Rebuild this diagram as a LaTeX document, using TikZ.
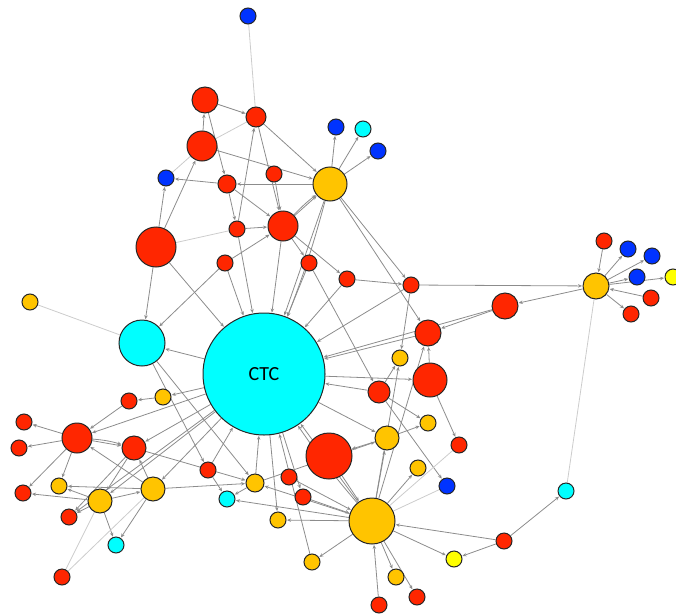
\documentclass[tikz,border=0pt]{standalone}
\usepackage{fontspec}
\setsansfont{Carlito}
\usetikzlibrary{arrows.meta,backgrounds}
\definecolor{red}{RGB}{255,38,0}
\definecolor{org}{RGB}{255,196,0}
\definecolor{blu}{RGB}{0,51,255}
\definecolor{cyn}{RGB}{0,255,255}
\definecolor{ylw}{RGB}{255,255,0}
\begin{document}
\begin{tikzpicture}[x=1pt,y=-1pt,
    nd/.style={circle,draw=black!85,line width=1pt,inner sep=0pt},
    ed/.style={draw=black!45,line width=0.8pt,-{Stealth[length=4pt,width=3.5pt]},shorten >=0.5pt},
    lt/.style={draw=black!20,line width=0.8pt}]
\useasboundingbox (0,0) rectangle (676,615);
% nodes
\node[nd,fill=cyn,minimum size=122pt,font=\sffamily\fontsize{20}{24}\selectfont] (ctc) at (264,374) {CTC};
\foreach \n/\x/\y/\d/\c in {b1/248/16/16/blu, r1/205/100/26/red, r2/256/117/20/red, r3/202/146/30/red,
    b2/166/178/16/blu, r4/227/184/18/red, r5/274/174/16/red, y1/330/184/34/org, b3/336/127/16/blu,
    c1/363/129/16/cyn, b4/378/151/16/blu, r6/156/247/40/red, r7/237/229/16/red, r8/283/226/30/red,
    r9/225/263/16/red, r10/309/263/16/red, r11/347/279/16/red, r12/411/285/16/red, r13/505/306/26/red,
    y2/596/286/26/org, r14/604/241/16/red, b5/628/249/16/blu, b6/652/256/16/blu, b7/637/277/16/blu,
    w1/673/277/16/ylw, r15/651/298/16/red, r16/631/314/16/red, o3/30/302/16/org, c2/142/343/46/cyn,
    r17/428/333/26/red, o4/400/358/16/org, r18/430/380/34/red, r19/379/392/22/red, o5/428/423/16/org,
    r20/459/445/16/red, o6/387/438/24/org, r21/329/456/46/red, o7/418/468/16/org, b8/447/486/16/blu,
    o8/163/397/16/org, r22/129/401/16/red, r23/24/422/16/red, r24/19/448/16/red, r25/77/438/30/red,
    r26/134/448/24/red, o9/59/486/16/org, o10/100/501/24/org, o11/153/489/24/org, r27/23/493/16/red,
    r28/69/517/16/red, c3/116/545/16/cyn, r29/62/577/16/red, r30/208/470/16/red, c4/227/499/16/cyn,
    o12/255/483/18/org, r31/289/477/16/red, r32/303/497/16/red, o13/278/520/16/org, y3/372/521/46/org,
    o15/312/562/16/org, w2/454/559/16/ylw, r33/504/541/16/red, c5/566/491/16/cyn, o16/396/577/16/org,
    r34/417/597/16/red, r35/379/605/16/red}
  \node[nd,fill=\c,minimum size=\d pt] (\n) at (\x,\y) {};
% edges
\begin{scope}[on background layer]
\foreach \a/\b in {r1/r2, r3/r1, r1/r4, r2/y1, r2/r8, r7/r2, r3/y1, r4/b2, y1/r4, r4/r8, r4/r7,
    r5/r8, r6/b2, r6/r3, r6/c2, r6/ctc, r7/r8, r9/r8, r9/c2, r8/ctc, r8/y1, r8/r10, r8/r11, r7/ctc,
    r9/ctc, y1/ctc, y1/b3, y1/c1, y1/b4, y1/r12, y1/r17, r10/ctc, r11/ctc, r12/ctc, r11/r12, r12/y2,
    r12/o4, r10/r19, y2/r13, r14/y2, y2/b5, y2/b6, y2/b7, y2/w1, r15/y2, y2/r16, r13/r17, r13/ctc,
    r17/ctc, r18/r17, ctc/r18, r19/ctc, r19/o4, r19/o5, r19/b8, r18/r20, o6/o5, o6/r21, ctc/o6,
    y3/o6, y3/o4, y3/r17, y3/o7, y3/w2, r33/y3, y3/o16, y3/r34, r35/y3, r21/y3, r33/c5, r33/w2,
    ctc/c2, c2/r30, c2/o12, ctc/o8, o8/r22, r22/r25, ctc/r25, r25/r23, r25/r24, r25/r27, r25/o9,
    r25/r26, o11/r25, ctc/r26, r26/r28, r26/o10, o11/r26, r26/o12, o10/o9, o10/r27, o10/r28, o10/c3,
    o10/o11, o11/o9, o11/c3, ctc/o11, ctc/o10, ctc/r28, o11/o12, r30/c4, r30/ctc, o12/ctc, o12/c4,
    y3/c4, r31/y3, r32/y3, y3/o13, y3/ctc, ctc/o13, o15/ctc, y3/o15, y3/o12, o12/o6, ctc/r32}
  \draw[ed] (\a) -- (\b);
\draw[ed] (y1) to[bend left=3] (ctc);
\draw[ed] (r8) to[bend left=4] (y1);
\draw[ed] (y3) to[bend left=3] (ctc);
\draw[ed] (r25) to[bend left=6] (r26);
\foreach \a/\b in {b1/r2, r3/r2, r3/b2, r6/r7, c5/y2, o3/c2, r29/o10, r29/o11, y3/r20, y3/b8}
  \draw[lt] (\a) -- (\b);
\end{scope}
\end{tikzpicture}
\end{document}
